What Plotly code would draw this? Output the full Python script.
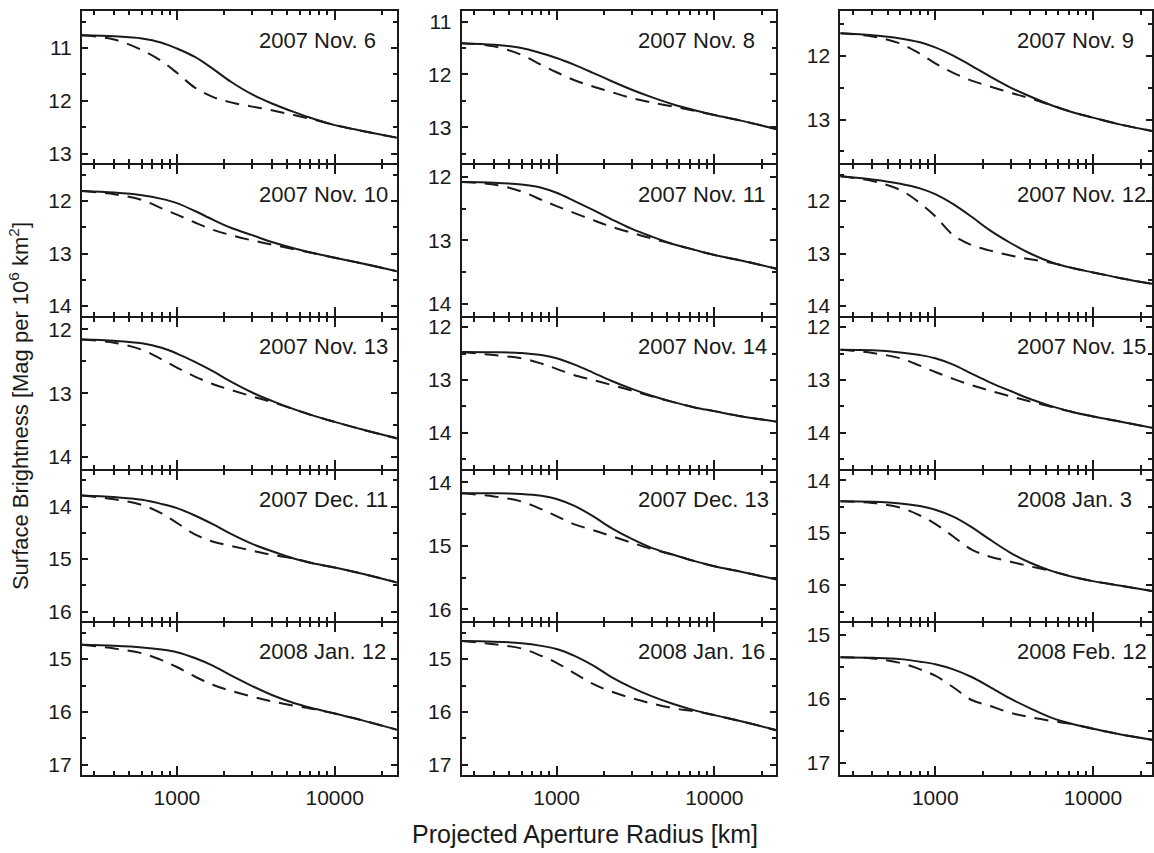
import plotly.graph_objects as go
import math

# ---------------- data ----------------
radius_km = [250, 400, 600, 800, 1000, 1300, 1700, 2200, 3000, 4000, 5500, 7500, 10000, 15000, 25000]

dates = ["2007 Nov. 6", "2007 Nov. 8", "2007 Nov. 9",
         "2007 Nov. 10", "2007 Nov. 11", "2007 Nov. 12",
         "2007 Nov. 13", "2007 Nov. 14", "2007 Nov. 15",
         "2007 Dec. 11", "2007 Dec. 13", "2008 Jan. 3",
         "2008 Jan. 12", "2008 Jan. 16", "2008 Feb. 12"]

nov06_solid = [10.76, 10.78, 10.82, 10.90, 11.01, 11.17, 11.40, 11.64, 11.88, 12.05, 12.21, 12.35, 12.46, 12.57, 12.70]
nov06_dash  = [10.76, 10.84, 11.04, 11.25, 11.47, 11.75, 11.93, 12.03, 12.11, 12.18, 12.27, 12.36, 12.46, 12.57, 12.70]
nov08_solid = [11.41, 11.44, 11.50, 11.60, 11.69, 11.82, 11.97, 12.12, 12.29, 12.43, 12.57, 12.68, 12.77, 12.88, 13.04]
nov08_dash  = [11.41, 11.47, 11.63, 11.82, 11.96, 12.11, 12.23, 12.33, 12.45, 12.53, 12.61, 12.69, 12.77, 12.88, 13.04]
nov09_solid = [11.65, 11.68, 11.73, 11.79, 11.87, 12.00, 12.16, 12.32, 12.50, 12.64, 12.78, 12.89, 12.97, 13.08, 13.19]
nov09_dash  = [11.65, 11.70, 11.81, 11.97, 12.12, 12.27, 12.39, 12.48, 12.58, 12.67, 12.78, 12.89, 12.97, 13.08, 13.19]
nov10_solid = [11.81, 11.84, 11.89, 11.96, 12.04, 12.19, 12.36, 12.51, 12.65, 12.78, 12.90, 13.00, 13.08, 13.19, 13.34]
nov10_dash  = [11.81, 11.87, 11.98, 12.14, 12.26, 12.41, 12.55, 12.65, 12.75, 12.83, 12.92, 13.00, 13.08, 13.19, 13.34]
nov11_solid = [12.08, 12.09, 12.12, 12.17, 12.25, 12.38, 12.52, 12.66, 12.82, 12.94, 13.06, 13.15, 13.23, 13.32, 13.45]
nov11_dash  = [12.08, 12.12, 12.23, 12.36, 12.46, 12.57, 12.68, 12.78, 12.88, 12.97, 13.06, 13.15, 13.23, 13.32, 13.45]
nov12_solid = [11.53, 11.59, 11.67, 11.76, 11.87, 12.06, 12.30, 12.55, 12.80, 13.00, 13.17, 13.28, 13.36, 13.47, 13.59]
nov12_dash  = [11.53, 11.62, 11.79, 12.04, 12.29, 12.65, 12.84, 12.94, 13.04, 13.11, 13.18, 13.28, 13.36, 13.47, 13.59]
nov13_solid = [12.16, 12.18, 12.22, 12.29, 12.38, 12.51, 12.66, 12.82, 12.99, 13.12, 13.25, 13.36, 13.45, 13.57, 13.71]
nov13_dash  = [12.16, 12.21, 12.32, 12.47, 12.60, 12.74, 12.86, 12.95, 13.05, 13.14, 13.25, 13.36, 13.45, 13.57, 13.71]
nov14_solid = [12.47, 12.475, 12.49, 12.53, 12.59, 12.71, 12.86, 13.01, 13.17, 13.30, 13.42, 13.52, 13.59, 13.69, 13.79]
nov14_dash  = [12.47, 12.53, 12.59, 12.69, 12.79, 12.91, 13.00, 13.09, 13.20, 13.31, 13.42, 13.52, 13.59, 13.69, 13.79]
nov15_solid = [12.43, 12.44, 12.48, 12.53, 12.59, 12.71, 12.88, 13.04, 13.21, 13.36, 13.50, 13.61, 13.69, 13.79, 13.92]
nov15_dash  = [12.43, 12.49, 12.59, 12.73, 12.85, 12.98, 13.10, 13.20, 13.31, 13.41, 13.51, 13.61, 13.69, 13.79, 13.92]
dec11_solid = [13.79, 13.82, 13.87, 13.95, 14.03, 14.17, 14.34, 14.52, 14.71, 14.85, 14.99, 15.09, 15.16, 15.28, 15.45]
dec11_dash  = [13.79, 13.86, 13.97, 14.13, 14.31, 14.53, 14.67, 14.75, 14.84, 14.92, 14.99, 15.09, 15.16, 15.28, 15.45]
dec13_solid = [14.17, 14.17, 14.18, 14.21, 14.26, 14.37, 14.53, 14.71, 14.89, 15.03, 15.14, 15.24, 15.32, 15.41, 15.53]
dec13_dash  = [14.17, 14.22, 14.30, 14.42, 14.53, 14.66, 14.75, 14.84, 14.95, 15.05, 15.14, 15.24, 15.32, 15.41, 15.53]
jan03_solid = [14.40, 14.41, 14.44, 14.49, 14.56, 14.69, 14.89, 15.12, 15.38, 15.57, 15.73, 15.84, 15.92, 16.01, 16.12]
jan03_dash  = [14.40, 14.43, 14.52, 14.67, 14.83, 15.07, 15.32, 15.45, 15.55, 15.64, 15.73, 15.84, 15.92, 16.01, 16.12]
jan12_solid = [14.73, 14.75, 14.78, 14.82, 14.87, 14.98, 15.13, 15.31, 15.51, 15.68, 15.83, 15.94, 16.03, 16.16, 16.34]
jan12_dash  = [14.73, 14.80, 14.89, 15.02, 15.15, 15.33, 15.49, 15.60, 15.71, 15.80, 15.88, 15.95, 16.03, 16.16, 16.34]
jan16_solid = [14.66, 14.67, 14.70, 14.75, 14.81, 14.94, 15.12, 15.33, 15.54, 15.70, 15.85, 15.97, 16.06, 16.18, 16.35]
jan16_dash  = [14.66, 14.72, 14.80, 14.94, 15.07, 15.27, 15.47, 15.61, 15.74, 15.84, 15.93, 15.99, 16.06, 16.18, 16.35]
feb12_solid = [15.35, 15.36, 15.38, 15.42, 15.46, 15.54, 15.66, 15.81, 16.00, 16.15, 16.30, 16.40, 16.47, 16.56, 16.65]
feb12_dash  = [15.35, 15.37, 15.44, 15.54, 15.64, 15.82, 16.02, 16.11, 16.22, 16.29, 16.35, 16.40, 16.47, 16.56, 16.65]

solid_series = [nov06_solid, nov08_solid, nov09_solid, nov10_solid, nov11_solid, nov12_solid,
                nov13_solid, nov14_solid, nov15_solid, dec11_solid, dec13_solid, jan03_solid,
                jan12_solid, jan16_solid, feb12_solid]
dash_series = [nov06_dash, nov08_dash, nov09_dash, nov10_dash, nov11_dash, nov12_dash,
               nov13_dash, nov14_dash, nov15_dash, dec11_dash, dec13_dash, jan03_dash,
               jan12_dash, jan16_dash, feb12_dash]

# y ranges (top, bottom) per panel, magnitudes increase downward
y_top = [10.3, 10.8, 11.3, 11.3, 11.8, 11.3, 11.8, 11.8, 11.8, 13.3, 13.8, 13.8, 14.3, 14.3, 14.8]
y_bot = [13.2, 13.7, 13.7, 14.2, 14.2, 14.2, 14.2, 14.7, 14.7, 16.2, 16.2, 16.7, 17.2, 17.2, 17.2]

x_major = [1000, 10000]
x_major_text = ["1000", "10000"]
x_minor = [300, 400, 500, 600, 700, 800, 900, 2000, 3000, 4000, 5000, 6000, 7000, 8000, 9000, 20000]

# ---------------- layout ----------------
W, H = 1154, 853
col_px = [(82, 397), (462, 777), (841, 1153)]
row_px = [9, 163, 316, 470, 623, 777]
decade_px = 157.9
x_lo = math.log10(250)

FONT = "Liberation Sans, Arial, Helvetica, sans-serif"
INK = "#1a1a1a"

fig = go.Figure()
layout = dict(
    width=W, height=H,
    margin=dict(l=0, r=0, t=0, b=0),
    paper_bgcolor="white", plot_bgcolor="white",
    showlegend=False,
    font=dict(family=FONT, size=21, color=INK),
)
annotations = []

for i in range(15):
    r, c = divmod(i, 3)
    n = i + 1
    xa = "xaxis" if n == 1 else f"xaxis{n}"
    ya = "yaxis" if n == 1 else f"yaxis{n}"
    xr = "x" if n == 1 else f"x{n}"
    yr = "y" if n == 1 else f"y{n}"
    x0, x1 = col_px[c]
    # shared borders: shrink by 1px each side so the two frame lines coincide
    top = row_px[r] + (1 if r > 0 else 0)
    bot = row_px[r + 1] - (1 if r < 4 else 0)
    # adjust y range to keep the same mag/pixel scale as the nominal panel
    nominal_h = row_px[r + 1] - row_px[r]
    scale = (y_bot[i] - y_top[i]) / nominal_h
    yt = y_top[i] + (top - row_px[r]) * scale
    yb = y_bot[i] - (row_px[r + 1] - bot) * scale
    x_hi = x_lo + (x1 - x0) / decade_px

    fig.add_trace(go.Scatter(x=radius_km, y=solid_series[i], mode="lines",
                             line=dict(color=INK, width=2, shape="spline", smoothing=1.0),
                             xaxis=xr, yaxis=yr, hoverinfo="skip"))
    fig.add_trace(go.Scatter(x=radius_km, y=dash_series[i], mode="lines",
                             line=dict(color=INK, width=2, dash="14px,9px", shape="spline", smoothing=1.0),
                             xaxis=xr, yaxis=yr, hoverinfo="skip"))

    layout[xa] = dict(
        type="log", range=[x_lo, x_hi],
        domain=[x0 / W, x1 / W],
        anchor=yr,
        showline=True, linewidth=2, linecolor=INK, mirror="ticks",
        ticks="inside", ticklen=9, tickwidth=1.6, tickcolor=INK,
        tickvals=x_major, ticktext=x_major_text,
        showticklabels=(r == 4), ticklabelstandoff=2,
        tickfont=dict(size=21, color=INK, family=FONT),
        minor=dict(tickvals=x_minor, ticks="inside", ticklen=4, tickwidth=1.6, tickcolor=INK, showgrid=False),
        showgrid=False, zeroline=False, fixedrange=True,
    )
    majors = [v for v in range(int(math.ceil(yt)), int(math.floor(yb)) + 1)]
    minors = [v + 0.5 for v in range(int(math.floor(yt)) - 1, int(math.ceil(yb)) + 1)
              if yt <= v + 0.5 <= yb]
    layout[ya] = dict(
        range=[yb, yt],
        domain=[1 - bot / H, 1 - top / H],
        anchor=xr,
        showline=True, linewidth=2, linecolor=INK, mirror="ticks",
        ticks="inside", ticklen=6, tickwidth=1.6, tickcolor=INK,
        tickvals=majors, ticktext=[str(v) for v in majors],
        ticklabelstandoff=4,
        tickfont=dict(size=21, color=INK, family=FONT),
        minor=dict(tickvals=minors, ticks="inside", ticklen=4, tickwidth=1.6, tickcolor=INK, showgrid=False),
        showgrid=False, zeroline=False, fixedrange=True,
    )
    annotations.append(dict(
        text=dates[i], xref=f"{xr} domain", yref=f"{yr} domain",
        x=175 / (x1 - x0), y=1 - (30 - (top - row_px[r])) / (bot - top), xanchor="left", yanchor="middle",
        showarrow=False, font=dict(size=22, color=INK, family=FONT),
    ))

annotations.append(dict(
    text="Projected Aperture Radius [km]", xref="paper", yref="paper",
    x=586 / W, y=1 - 836 / H, xanchor="center", yanchor="middle",
    showarrow=False, font=dict(size=25, color=INK, family=FONT),
))
annotations.append(dict(
    text="Surface Brightness [Mag per 10<sup>6</sup> km<sup>2</sup>]", xref="paper", yref="paper",
    x=19 / W, y=1 - 406 / H, xanchor="center", yanchor="middle", textangle=-90,
    showarrow=False, font=dict(size=22, color=INK, family=FONT),
))
layout["annotations"] = annotations
fig.update_layout(**layout)
fig.write_html("out.html")
